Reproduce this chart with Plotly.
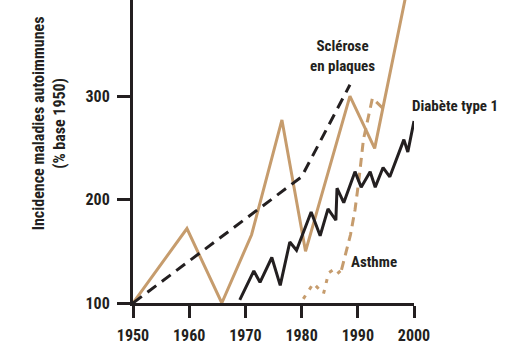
import plotly.graph_objects as go

# ---- data ----
crohn_years = [1950, 1959.6, 1965.8, 1971.1, 1976.5, 1980.7, 1988.6, 1993.0, 2000]
crohn_vals = [100, 172, 100, 166, 277, 150, 300, 249.5, 436]

sep_years = [1950, 1980, 1988.6]
sep_vals = [100, 222, 311]

diab_years = [1969.0, 1971.5, 1972.6, 1974.7, 1976.2, 1977.9, 1979.1, 1981.7, 1983.3,
              1984.7, 1986.1, 1986.3, 1987.5, 1989.5, 1990.6, 1992.2, 1993.1, 1994.5,
              1995.7, 1998.2, 1998.9, 2000.0]
diab_vals = [103, 131, 120, 144, 117, 159, 151, 188, 165,
             191, 180, 211, 197, 227, 212, 227, 212, 231,
             222, 258, 246, 276]

asthme_dot_years = [1980.3, 1982.1, 1983.9, 1984.8, 1985.6, 1986.3, 1987.1]
asthme_dot_vals = [104, 119, 109, 129, 132, 128, 132]
asthme_dash_years = [1987.1, 1987.8, 1988.7, 1989.5, 1990.2, 1991.0, 1992.6, 1994.5]
asthme_dash_vals = [132, 146, 166, 190, 219, 258, 298, 288]

x_ticks = [1950, 1960, 1970, 1980, 1990, 2000]
y_ticks = [100, 200, 300]

TAN = "#C69C6D"
INK = "#231F20"
FONT = "Roboto Condensed, DejaVu Sans Condensed, Roboto, sans-serif"

fig = go.Figure()
fig.add_trace(go.Scatter(x=crohn_years, y=crohn_vals, mode="lines",
                         line=dict(color=TAN, width=3)))
fig.add_trace(go.Scatter(x=sep_years, y=sep_vals, mode="lines",
                         line=dict(color=INK, width=3, dash="11px,7px")))
fig.add_trace(go.Scatter(x=asthme_dot_years, y=asthme_dot_vals, mode="lines",
                         line=dict(color=TAN, width=3, dash="4px,7px")))
fig.add_trace(go.Scatter(x=asthme_dash_years, y=asthme_dash_vals, mode="lines",
                         line=dict(color=TAN, width=3, dash="9px,6px")))
fig.add_trace(go.Scatter(x=diab_years, y=diab_vals, mode="lines",
                         line=dict(color=INK, width=3)))

ann_font = dict(family=FONT, size=15, color=INK, weight="bold")
fig.add_annotation(x=1987.2, y=339, text="Sclérose<br>en plaques", showarrow=False,
                   font=ann_font, xanchor="center", yanchor="middle", align="center")
fig.add_annotation(xref="paper", yref="paper", x=1.146, y=0.65, text="Diabète type 1",
                   showarrow=False, font=ann_font, xanchor="center", yanchor="middle")
fig.add_annotation(x=1992.9, y=140, text="Asthme", showarrow=False,
                   font=ann_font, xanchor="center", yanchor="middle")
fig.add_annotation(xref="paper", yref="paper", x=-0.30, y=0.592,
                   text="Incidence maladies autoimmunes<br>(% base 1950)",
                   showarrow=False, textangle=-90,
                   font=dict(family=FONT, size=16, color=INK, weight="bold"),
                   xanchor="center", yanchor="middle", align="center")

fig.update_layout(
    width=517, height=350,
    margin=dict(l=133, r=103, t=0, b=47),
    plot_bgcolor="white", paper_bgcolor="white",
    showlegend=False,
    font=dict(family=FONT, color=INK),
)
fig.update_xaxes(range=[1950, 2000], tickvals=x_ticks, showgrid=False, zeroline=False,
                 showline=True, linecolor=INK, linewidth=3,
                 ticks="outside", ticklen=12, tickwidth=3, tickcolor=INK,
                 ticklabelstandoff=4,
                 tickfont=dict(family=FONT, size=16, color=INK, weight="bold"))
fig.update_yaxes(range=[100, 393], tickvals=y_ticks, showgrid=False, zeroline=False,
                 showline=True, linecolor=INK, linewidth=3,
                 ticks="outside", ticklen=13, tickwidth=3, tickcolor=INK,
                 ticklabelstandoff=4,
                 tickfont=dict(family=FONT, size=16, color=INK, weight="bold"))

fig.write_html("out.html", config={"displayModeBar": False},
               post_script="document.body.style.margin='0';")
